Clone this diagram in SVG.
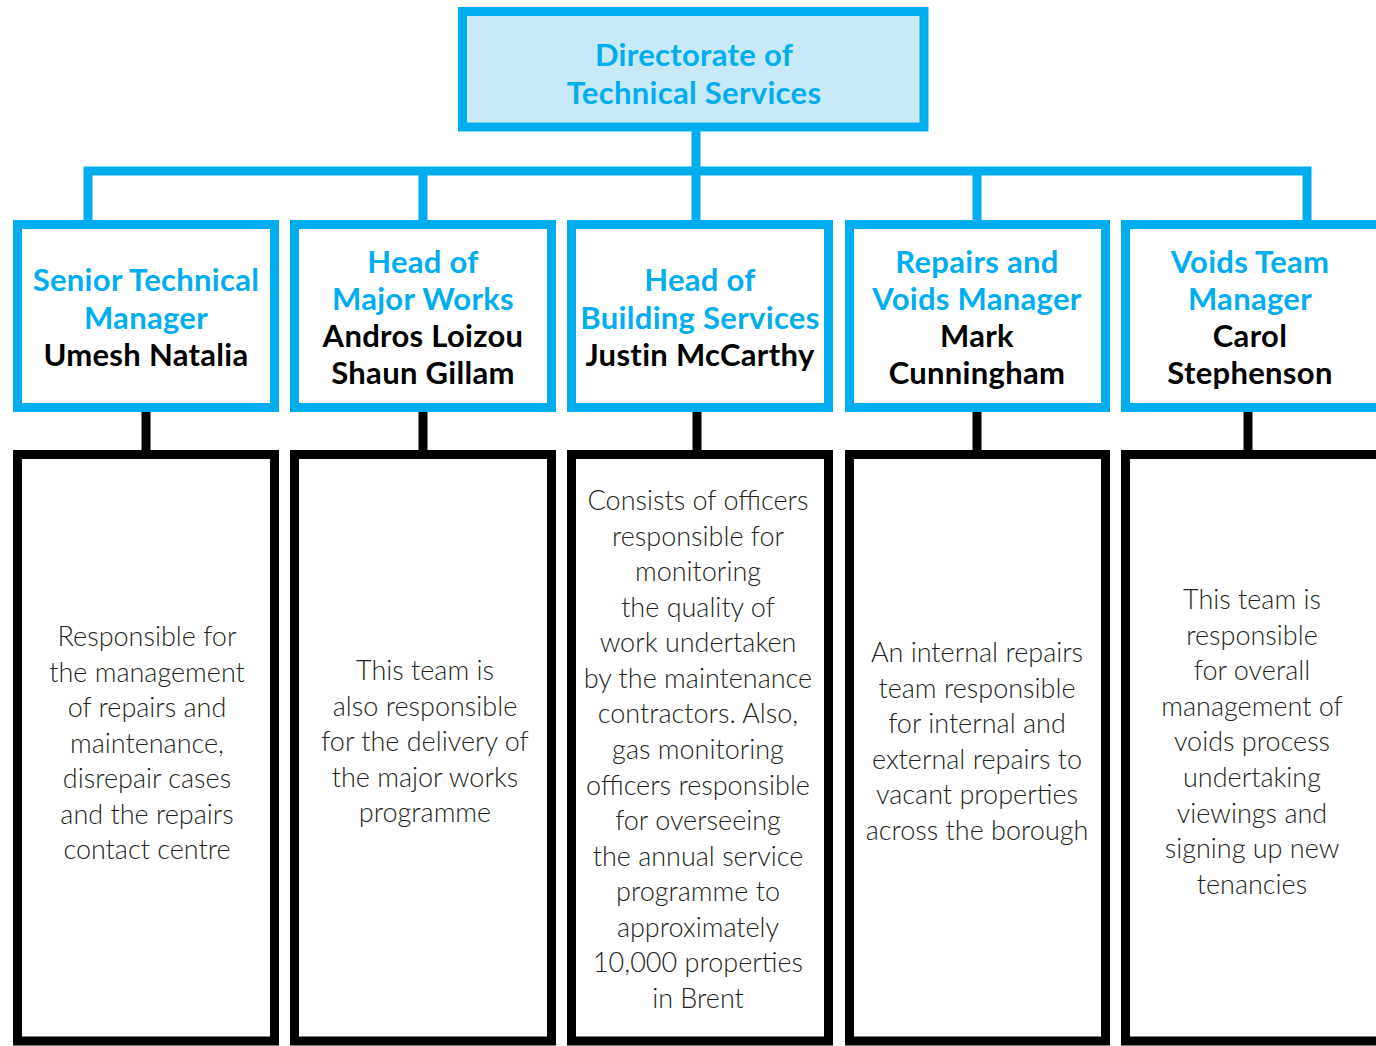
<svg xmlns="http://www.w3.org/2000/svg" width="1376" height="1046" viewBox="0 0 1376 1046">
<style>
.bl{fill:#ffffff;stroke:#00aeef;stroke-width:9}
.top{fill:#c8e9f8;stroke:#00aeef;stroke-width:9}
.bk{fill:#ffffff;stroke:#000000;stroke-width:9}
.cb{fill:none;stroke:#00aeef;stroke-width:9}
.ck{fill:none;stroke:#000000;stroke-width:9}
.h{font-family:Lato,"Open Sans","Liberation Sans",sans-serif;font-weight:700;font-size:31px;letter-spacing:0.3px;text-anchor:middle}
.hb{fill:#00aeef}
.hn{fill:#000000}
.b{font-family:Lato,"Open Sans","Liberation Sans",sans-serif;font-weight:300;font-size:27px;fill:#231f20;text-anchor:middle}
</style>
<rect width="1376" height="1046" fill="#ffffff"/>
<g id="connectors">
<path class="cb" d="M696,127 V171"/>
<path class="cb" d="M88,224 V171 H1307 V224"/>
<path class="cb" d="M423,171 V224"/>
<path class="cb" d="M696,171 V224"/>
<path class="cb" d="M977,171 V224"/>
<path class="ck" d="M146,408 V454"/>
<path class="ck" d="M423,408 V454"/>
<path class="ck" d="M697,408 V454"/>
<path class="ck" d="M977,408 V454"/>
<path class="ck" d="M1248,408 V454"/>
</g>
<g id="directorate">
<rect class="top" x="462.5" y="11.5" width="461.5" height="115.5"/>
<text class="h hb" x="694" y="66">Directorate of</text>
<text class="h hb" x="694" y="104">Technical Services</text>
</g>
<g id="senior-technical-manager">
<rect class="bl" x="17.5" y="224.5" width="257" height="183"/>
<text class="h hb" x="146" y="291">Senior Technical</text>
<text class="h hb" x="146" y="329">Manager</text>
<text class="h hn" x="146" y="366">Umesh Natalia</text>
</g>
<g id="head-major-works">
<rect class="bl" x="294.5" y="224.5" width="257" height="183"/>
<text class="h hb" x="423" y="273">Head of</text>
<text class="h hb" x="423" y="310">Major Works</text>
<text class="h hn" x="423" y="347">Andros Loizou</text>
<text class="h hn" x="423" y="384">Shaun Gillam</text>
</g>
<g id="head-building-services">
<rect class="bl" x="571.5" y="224.5" width="257" height="183"/>
<text class="h hb" x="700" y="291">Head of</text>
<text class="h hb" x="700" y="329">Building Services</text>
<text class="h hn" x="700" y="366">Justin McCarthy</text>
</g>
<g id="repairs-voids-manager">
<rect class="bl" x="849.5" y="224.5" width="256" height="183"/>
<text class="h hb" x="977" y="273">Repairs and</text>
<text class="h hb" x="977" y="310">Voids Manager</text>
<text class="h hn" x="977" y="347">Mark</text>
<text class="h hn" x="977" y="384">Cunningham</text>
</g>
<g id="voids-team-manager">
<rect class="bl" x="1125.5" y="224.5" width="257" height="183"/>
<text class="h hb" x="1250" y="273">Voids Team</text>
<text class="h hb" x="1250" y="310">Manager</text>
<text class="h hn" x="1250" y="347">Carol</text>
<text class="h hn" x="1250" y="384">Stephenson</text>
</g>
<g id="desc-senior-technical">
<rect class="bk" x="17.5" y="454.5" width="257" height="586.5"/>
<text class="b" x="147" y="646">Responsible for</text>
<text class="b" x="147" y="681.5">the management</text>
<text class="b" x="147" y="717">of repairs and</text>
<text class="b" x="147" y="752.5">maintenance,</text>
<text class="b" x="147" y="788">disrepair cases</text>
<text class="b" x="147" y="823.5">and the repairs</text>
<text class="b" x="147" y="859">contact centre</text>
</g>
<g id="desc-major-works">
<rect class="bk" x="294.5" y="454.5" width="257" height="586.5"/>
<text class="b" x="425" y="680">This team is</text>
<text class="b" x="425" y="715.5">also responsible</text>
<text class="b" x="425" y="751">for the delivery of</text>
<text class="b" x="425" y="786.5">the major works</text>
<text class="b" x="425" y="822">programme</text>
</g>
<g id="desc-building-services">
<rect class="bk" x="571.5" y="454.5" width="257" height="586.5"/>
<text class="b" x="698" y="510">Consists of officers</text>
<text class="b" x="698" y="545.6">responsible for</text>
<text class="b" x="698" y="581.1">monitoring</text>
<text class="b" x="698" y="616.7">the quality of</text>
<text class="b" x="698" y="652.3">work undertaken</text>
<text class="b" x="698" y="687.9">by the maintenance</text>
<text class="b" x="698" y="723.4">contractors. Also,</text>
<text class="b" x="698" y="759">gas monitoring</text>
<text class="b" x="698" y="794.6">officers responsible</text>
<text class="b" x="698" y="830.1">for overseeing</text>
<text class="b" x="698" y="865.7">the annual service</text>
<text class="b" x="698" y="901.3">programme to</text>
<text class="b" x="698" y="936.9">approximately</text>
<text class="b" x="698" y="972.4">10,000 properties</text>
<text class="b" x="698" y="1008">in Brent</text>
</g>
<g id="desc-repairs-voids">
<rect class="bk" x="849.5" y="454.5" width="256" height="586.5"/>
<text class="b" x="977" y="662">An internal repairs</text>
<text class="b" x="977" y="697.6">team responsible</text>
<text class="b" x="977" y="733.2">for internal and</text>
<text class="b" x="977" y="768.8">external repairs to</text>
<text class="b" x="977" y="804.4">vacant properties</text>
<text class="b" x="977" y="840">across the borough</text>
</g>
<g id="desc-voids-team">
<rect class="bk" x="1125.5" y="454.5" width="257" height="586.5"/>
<text class="b" x="1252" y="609">This team is</text>
<text class="b" x="1252" y="644.6">responsible</text>
<text class="b" x="1252" y="680.2">for overall</text>
<text class="b" x="1252" y="715.8">management of</text>
<text class="b" x="1252" y="751.4">voids process</text>
<text class="b" x="1252" y="787">undertaking</text>
<text class="b" x="1252" y="822.6">viewings and</text>
<text class="b" x="1252" y="858.2">signing up new</text>
<text class="b" x="1252" y="893.8">tenancies</text>
</g>
</svg>
